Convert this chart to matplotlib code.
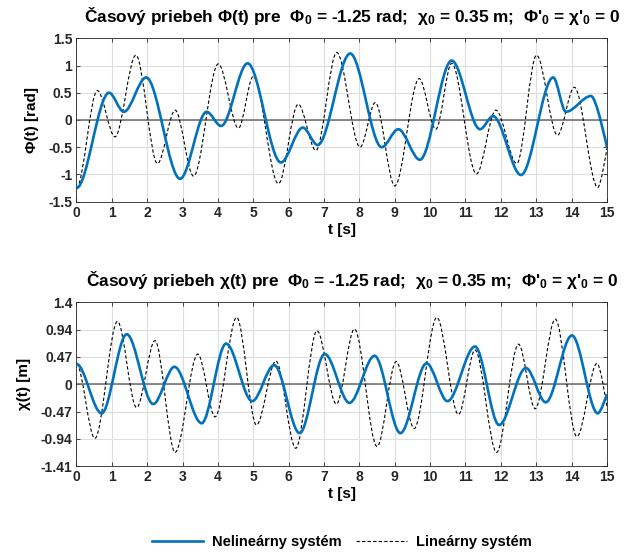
import matplotlib
matplotlib.use('Agg')
import matplotlib.pyplot as plt
from matplotlib.path import Path
from matplotlib.patches import PathPatch
from matplotlib.lines import Line2D

plt.rcParams['font.family'] = ['Liberation Sans', 'DejaVu Sans']
plt.rcParams['font.weight'] = 'bold'
plt.rcParams['mathtext.fontset'] = 'custom'
plt.rcParams['mathtext.rm'] = 'Liberation Sans:bold'
plt.rcParams['mathtext.it'] = 'Liberation Sans:bold'
plt.rcParams['mathtext.bf'] = 'Liberation Sans:bold'
plt.rcParams['mathtext.default'] = 'rm'

# extrema (time, value)
phi_nl_t = [0, 0.92, 1.34, 1.97, 2.93, 3.68, 4.09, 4.84, 5.78, 6.40, 6.82, 7.74, 8.63, 9.10, 9.71,
            10.61, 11.41, 11.78, 12.57, 13.48, 13.84, 14.55, 15.0]
phi_nl_v = [-1.25, 0.50, 0.15, 0.78, -1.08, 0.15, -0.11, 1.04, -0.78, -0.14, -0.46, 1.22, -0.50, -0.17, -0.73,
            1.09, -0.17, 0.07, -1.01, 0.78, 0.15, 0.44, -0.50]
phi_lin_t = [0, 0.59, 1.09, 1.68, 2.29, 2.79, 3.31, 4.01, 4.58, 5.0, 5.71, 6.27, 6.77, 7.36, 8.02, 8.45,
             9.00, 9.69, 10.16, 10.61, 11.31, 11.86, 12.45, 13.01, 13.60, 14.08, 14.74, 15.0]
phi_lin_v = [-1.25, 0.54, -0.31, 1.19, -0.80, 0.18, -1.03, 1.03, -0.15, 0.80, -1.17, 0.29, -0.56, 1.24, -0.50, 0.32,
             -1.21, 0.76, -0.17, 1.04, -0.99, 0.18, -0.80, 1.19, -0.28, 0.60, -1.24, -0.52]

chi_nl_t = [0, 0.71, 1.42, 2.17, 2.77, 3.54, 4.23, 4.97, 5.59, 6.31, 7.02, 7.72, 8.43, 9.16, 9.90,
            10.49, 11.27, 11.95, 12.71, 13.27, 14.01, 14.74, 15.0]
chi_nl_v = [0.35, -0.50, 0.86, -0.34, 0.30, -0.67, 0.70, -0.29, 0.33, -0.84, 0.52, -0.32, 0.49, -0.84, 0.36,
            -0.29, 0.65, -0.70, 0.28, -0.31, 0.84, -0.50, -0.17]
chi_lin_t = [0, 0.52, 1.16, 1.70, 2.22, 2.79, 3.43, 3.92, 4.53, 5.09, 5.64, 6.20, 6.80, 7.35, 7.86, 8.50,
             9.04, 9.55, 10.19, 10.80, 11.27, 11.88, 12.50, 12.97, 13.54, 14.15, 14.72, 15.0]
chi_lin_v = [0.35, -0.93, 1.08, -0.40, 0.75, -1.17, 0.52, -0.56, 1.15, -0.70, 0.40, -1.10, 0.92, -0.34, 0.95, -1.07,
             0.39, -0.76, 1.15, -0.52, 0.59, -1.17, 0.69, -0.42, 1.12, -0.90, 0.36, -0.38]

x_ticks = list(range(0, 16))
phi_ticks = [-1.5, -1, -0.5, 0, 0.5, 1, 1.5]
phi_ticklabels = ['-1.5', '-1', '-0.5', '0', '0.5', '1', '1.5']
chi_ticks = [-1.41, -0.94, -0.47, 0, 0.47, 0.94, 1.41]
chi_ticklabels = ['-1.41', '-0.94', '-0.47', '0', '0.47', '0.94', '1.4']

title_tail = '  Φ$_0$ = -1.25 rad;  χ$_0$ = 0.35 m;  Φ\'$_0$ = χ\'$_0$ = 0'
titles = ['Časový priebeh Φ(t) pre' + title_tail, 'Časový priebeh χ(t) pre' + title_tail]
ylabels = ['Φ(t) [rad]', 'χ(t) [m]']
legend_labels = ['Nelineárny systém', 'Lineárny systém']

blue = '#0072BD'


def smooth_path(ts, vs):
    # cubic segments with flat tangents at each read extremum
    verts = [(ts[0], vs[0])]
    codes = [Path.MOVETO]
    for i in range(1, len(ts)):
        d = (ts[i] - ts[i - 1]) / 3.0
        verts.append((ts[i - 1] + d, vs[i - 1]))
        if i < len(ts) - 1:
            verts.append((ts[i] - d, vs[i]))
        else:
            verts.append((ts[i], vs[i]))
        verts.append((ts[i], vs[i]))
        codes += [Path.CURVE4] * 3
    return Path(verts, codes)


fig = plt.figure(figsize=(6.3, 5.53), dpi=100)
ax1 = fig.add_axes([0.1214, 0.6353, 0.842, 0.2955])
ax2 = fig.add_axes([0.1214, 0.1568, 0.842, 0.2966])

panels = [
    (ax1, phi_nl_t, phi_nl_v, phi_lin_t, phi_lin_v, (-1.5, 1.5), phi_ticks, phi_ticklabels),
    (ax2, chi_nl_t, chi_nl_v, chi_lin_t, chi_lin_v, (-1.41, 1.41), chi_ticks, chi_ticklabels),
]

for k, (ax, nt, nv, lt, lv, ylim, yt, ytl) in enumerate(panels):
    ax.grid(True, color='#dedede', lw=0.8)
    ax.set_axisbelow(True)
    ax.axhline(0, color='#6a6a6a', lw=1.1, zorder=1)
    ax.add_patch(PathPatch(smooth_path(lt, lv), fill=False, ec='black', lw=0.8, ls=(0, (3, 2)), zorder=2))
    ax.add_patch(PathPatch(smooth_path(nt, nv), fill=False, ec=blue, lw=1.9, zorder=3))
    ax.set_xlim(0, 15)
    ax.set_ylim(*ylim)
    ax.set_xticks(x_ticks)
    ax.set_xticklabels([str(x) for x in x_ticks], fontsize=10, fontweight='bold')
    ax.set_yticks(yt)
    ax.set_yticklabels(ytl, fontsize=10, fontweight='bold')
    ax.tick_params(direction='in', length=3, width=0.6, colors='#262626', top=True, right=True, pad=3)
    for s in ax.spines.values():
        s.set_color('#262626')
        s.set_linewidth(0.6)
    ax.set_xlabel('t [s]', fontsize=11, fontweight='bold', labelpad=2)
    ax.set_ylabel(ylabels[k], fontsize=11, fontweight='bold', labelpad=7)
    ax.set_title(titles[k], fontsize=12.4, fontweight='bold', pad=12, x=0.52)

handles = [Line2D([], [], color=blue, lw=1.9), Line2D([], [], color='black', lw=0.8, ls=(0, (3, 2)))]
fig.legend(handles, legend_labels, loc='center', bbox_to_anchor=(0.543, 0.02), ncol=2, frameon=False,
           fontsize=10.5, handlelength=3.5, columnspacing=1.0, handletextpad=0.6)

fig.savefig('out.png', dpi=100)
